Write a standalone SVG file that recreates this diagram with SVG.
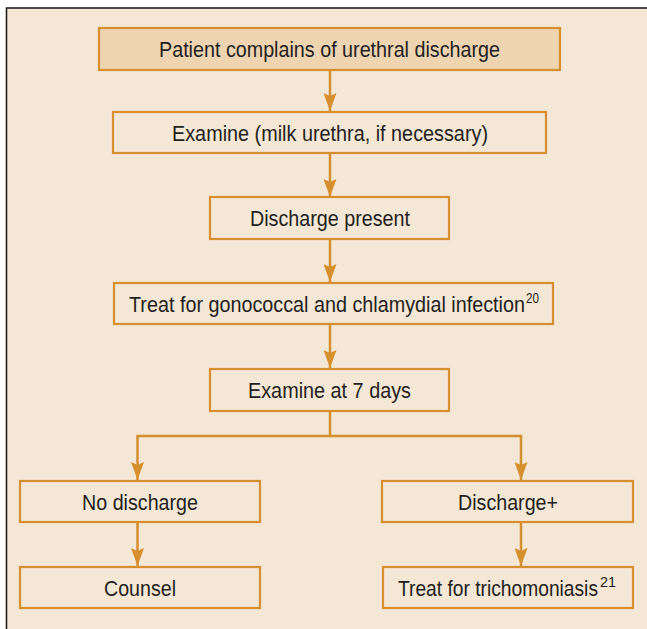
<svg xmlns="http://www.w3.org/2000/svg" width="647" height="629" viewBox="0 0 647 629">
<style>
.box{fill:#f5e7d5;stroke:#d68f2e;stroke-width:2.2}
.top{fill:#efd4b2}
.t{font-family:"Liberation Sans",Arial,sans-serif;font-size:22px;fill:#231f20}
.c{fill:none;stroke:#d68f2e;stroke-width:2.5}
.sup{font-family:"Liberation Sans",Arial,sans-serif;font-size:14px;fill:#231f20}
</style>
<defs>
<marker id="ah" viewBox="0 0 18 13" refX="18" refY="6.5" markerWidth="18" markerHeight="13" markerUnits="userSpaceOnUse" orient="auto">
<path d="M0,0 L18,6.5 L0,13 L3,6.5 Z" fill="#d68f2e"/>
</marker>
</defs>
<rect x="0" y="0" width="647" height="629" fill="#ffffff"/>
<rect x="6.5" y="8" width="645" height="625" fill="#f5e7d5" stroke="#231f20" stroke-width="1.6"/>
<g id="connectors">
<line class="c" x1="330" y1="71" x2="330" y2="111" marker-end="url(#ah)"/>
<line class="c" x1="330" y1="154" x2="330" y2="197" marker-end="url(#ah)"/>
<line class="c" x1="330" y1="240" x2="330" y2="282" marker-end="url(#ah)"/>
<line class="c" x1="330" y1="325" x2="330" y2="368" marker-end="url(#ah)"/>
<polyline class="c" points="330,412 330,436 137.5,436 137.5,480" marker-end="url(#ah)"/>
<polyline class="c" points="330,436 521,436 521,480" marker-end="url(#ah)"/>
<line class="c" x1="137.5" y1="523" x2="137.5" y2="566" marker-end="url(#ah)"/>
<line class="c" x1="521" y1="523" x2="521" y2="566" marker-end="url(#ah)"/>
</g>
<g id="n1"><rect class="box top" x="99" y="28" width="461" height="42"/><text class="t" x="159" y="57" textLength="341" lengthAdjust="spacingAndGlyphs">Patient complains of urethral discharge</text></g>
<g id="n2"><rect class="box" x="113" y="112" width="433" height="41"/><text class="t" x="172" y="140.5" textLength="316" lengthAdjust="spacingAndGlyphs">Examine (milk urethra, if necessary)</text></g>
<g id="n3"><rect class="box" x="210" y="197" width="239" height="42"/><text class="t" x="250" y="226" textLength="160" lengthAdjust="spacingAndGlyphs">Discharge present</text></g>
<g id="n4"><rect class="box" x="114" y="283" width="439" height="41"/><text class="t" x="129" y="311.5" textLength="396" lengthAdjust="spacingAndGlyphs">Treat for gonococcal and chlamydial infection</text><text class="sup" x="526" y="303" textLength="13" lengthAdjust="spacingAndGlyphs">20</text></g>
<g id="n5"><rect class="box" x="210" y="369" width="239" height="42"/><text class="t" x="248" y="398" textLength="163" lengthAdjust="spacingAndGlyphs">Examine at 7 days</text></g>
<g id="n6"><rect class="box" x="20" y="481" width="240" height="41"/><text class="t" x="82" y="509.5" textLength="116" lengthAdjust="spacingAndGlyphs">No discharge</text></g>
<g id="n7"><rect class="box" x="382" y="481" width="251" height="41"/><text class="t" x="458" y="509.5" textLength="100" lengthAdjust="spacingAndGlyphs">Discharge+</text></g>
<g id="n8"><rect class="box" x="20" y="567" width="240" height="41"/><text class="t" x="104" y="595.5" textLength="72" lengthAdjust="spacingAndGlyphs">Counsel</text></g>
<g id="n9"><rect class="box" x="383" y="567" width="250" height="41"/><text class="t" x="398" y="595.5" textLength="200" lengthAdjust="spacingAndGlyphs">Treat for trichomoniasis</text><text class="sup" x="600" y="587" textLength="16" lengthAdjust="spacingAndGlyphs">21</text></g>
</svg>
